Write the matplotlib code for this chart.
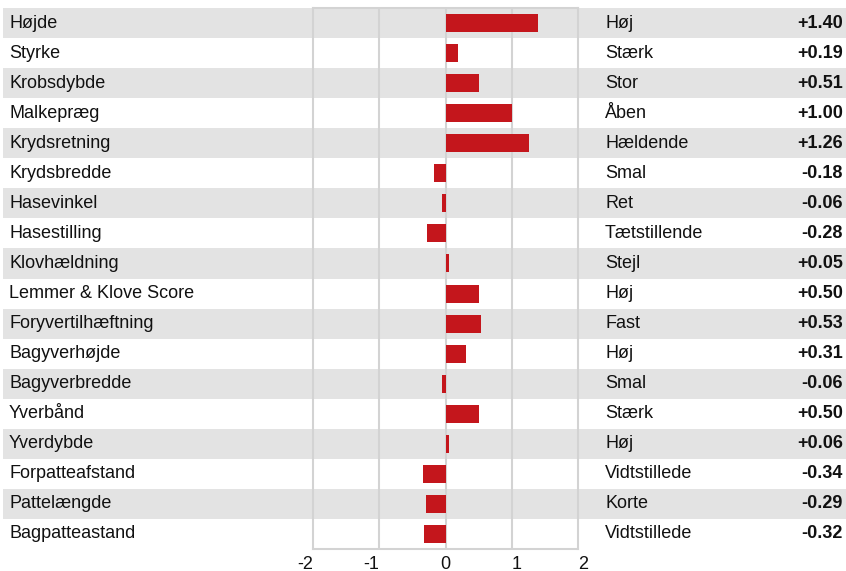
import matplotlib.pyplot as plt
from matplotlib.patches import Rectangle
from matplotlib.transforms import blended_transform_factory

plt.rcParams["font.family"] = ["Liberation Sans", "DejaVu Sans"]
plt.rcParams["axes.unicode_minus"] = False

# ---------------------------------------------------------------------------
# Data
# ---------------------------------------------------------------------------
traits = [
    "Højde", "Styrke", "Krobsdybde", "Malkepræg", "Krydsretning", "Krydsbredde",
    "Hasevinkel", "Hasestilling", "Klovhældning", "Lemmer & Klove Score",
    "Foryvertilhæftning", "Bagyverhøjde", "Bagyverbredde", "Yverbånd",
    "Yverdybde", "Forpatteafstand", "Pattelængde", "Bagpatteastand",
]
descriptions = [
    "Høj", "Stærk", "Stor", "Åben", "Hældende", "Smal", "Ret", "Tætstillende",
    "Stejl", "Høj", "Fast", "Høj", "Smal", "Stærk", "Høj", "Vidtstillede",
    "Korte", "Vidtstillede",
]
values = [1.40, 0.19, 0.51, 1.00, 1.26, -0.18, -0.06, -0.28, 0.05,
          0.50, 0.53, 0.31, -0.06, 0.50, 0.06, -0.34, -0.29, -0.32]
xticks = [-2, -1, 0, 1, 2]

BAR = "#c4161c"
STRIPE = "#e3e3e3"
FRAME = "#d3d3d3"
TEXT = "#111"
FS = 13
W, H = 846, 571

fig = plt.figure(figsize=(W / 100, H / 100), dpi=100)
ax = fig.add_axes([313 / W, (H - 549) / H, (578 - 313) / W, (549 - 8) / H])
ax.set_facecolor("none")

n = len(traits)
ax.set_xlim(-2, 2)
ax.set_ylim(n - 0.5, -0.5)

# alternating full-width stripes
trans = blended_transform_factory(fig.transFigure, ax.transData)
for i in range(0, n, 2):
    ax.add_patch(Rectangle((3 / W, i - 0.5), 1 - 3 / W, 1.0, transform=trans,
                           color=STRIPE, zorder=0, clip_on=False, lw=0))

for x in (-1, 0, 1):
    ax.axvline(x, color=FRAME, lw=1.5, zorder=1)

ax.barh(range(n), values, height=0.6, color=BAR, zorder=2)

for i, (name, desc, v) in enumerate(zip(traits, descriptions, values)):
    ax.text(9 / W, i, name, transform=trans, ha="left", va="center",
            fontsize=FS, color=TEXT)
    ax.text(605 / W, i, desc, transform=trans, ha="left", va="center",
            fontsize=FS, color=TEXT)
    ax.text(843 / W, i, f"{v:+.2f}", transform=trans, ha="right", va="center",
            fontsize=FS, color=TEXT, fontweight="bold")

for side in ax.spines.values():
    side.set_color(FRAME)
    side.set_linewidth(1.5)
ax.set_yticks([])
ax.set_xticks(xticks)
ax.set_xticklabels([str(t) for t in xticks])
ax.tick_params(axis="x", length=0, pad=5, labelsize=FS, colors=TEXT)
# negative labels sit left of their line, positive ones right of it
for t, lab in zip(xticks, ax.get_xticklabels()):
    lab.set_ha("right" if t < 0 else ("left" if t > 0 else "center"))

fig.savefig("out.png", dpi=100)
